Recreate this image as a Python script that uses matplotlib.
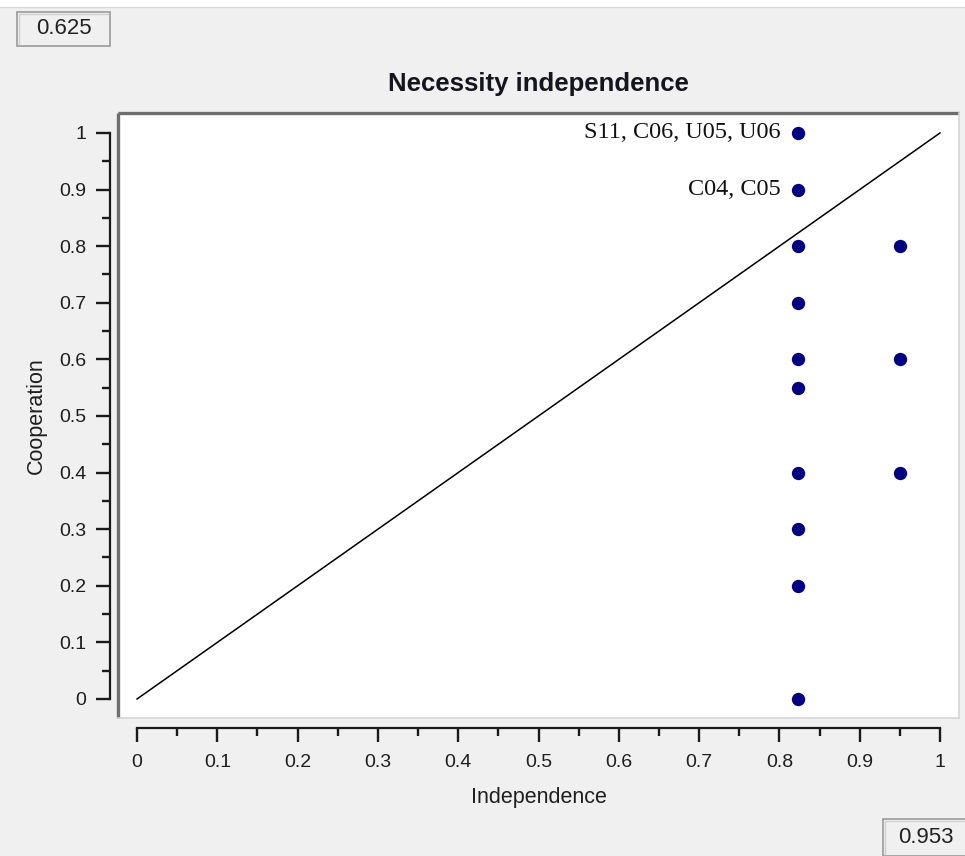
import matplotlib
matplotlib.use("Agg")
import matplotlib.pyplot as plt
from matplotlib.patches import Rectangle
from matplotlib.lines import Line2D
from matplotlib.ticker import FixedLocator, FixedFormatter

# ---- data ----
independence = [0.823, 0.823, 0.823, 0.823, 0.823, 0.823, 0.823, 0.823, 0.823, 0.823,
                0.95, 0.95, 0.95]
cooperation = [1.0, 0.9, 0.8, 0.7, 0.6, 0.55, 0.4, 0.3, 0.2, 0.0,
               0.8, 0.6, 0.4]
point_labels = ["S11, C06, U05, U06", "C04, C05"]
label_x = [0.823, 0.823]
label_y = [1.0, 0.9]
diag = [0, 1]
tick_vals = [0, 0.1, 0.2, 0.3, 0.4, 0.5, 0.6, 0.7, 0.8, 0.9, 1]
tick_text = ["0", "0.1", "0.2", "0.3", "0.4", "0.5", "0.6", "0.7", "0.8", "0.9", "1"]
minor_vals = [0.05, 0.15, 0.25, 0.35, 0.45, 0.55, 0.65, 0.75, 0.85, 0.95]
box_left = "0.625"
box_right = "0.953"

W, H = 965, 856
BG = "#f0f0f0"
SANS = ["Liberation Sans", "DejaVu Sans"]
SERIF = ["Liberation Serif", "DejaVu Serif"]

fig = plt.figure(figsize=(W / 100, H / 100), dpi=100)
fig.patch.set_facecolor(BG)


def fx(px):
    return px / W


def fy(py):
    return 1 - py / H


# white strip at the very top (cut-off caption)
fig.add_artist(Rectangle((0, fy(7)), 1, 7 / H, transform=fig.transFigure,
                         facecolor="white", edgecolor="none"))
fig.add_artist(Line2D([0, 1], [fy(7), fy(7)], transform=fig.transFigure,
                      color="#d8d8d8", lw=1))

# plot area
ax = fig.add_axes([fx(118), fy(718), (959 - 118) / W, (718 - 113) / H])
ax.set_facecolor("white")
ax.set_xlim(-0.0237, 1.0237)
ax.set_ylim(-0.0336, 1.0353)

# sunken frame around the white area
ax.plot([0, 1], [1, 1], transform=ax.transAxes, color="#6e6e6e", lw=2.4,
        clip_on=False, solid_capstyle="butt")
ax.plot([0, 0], [0, 1], transform=ax.transAxes, color="#6e6e6e", lw=2.4,
        clip_on=False, solid_capstyle="butt")
ax.plot([1, 1], [0, 1], transform=ax.transAxes, color="#d6d6d6", lw=1.2,
        clip_on=False)
ax.plot([0, 1], [0, 0], transform=ax.transAxes, color="#d6d6d6", lw=1.2,
        clip_on=False)

# detached axis lines
for s in ["top", "right"]:
    ax.spines[s].set_visible(False)
ax.spines["left"].set_position(("outward", 5.8))
ax.spines["bottom"].set_position(("outward", 7.2))
ax.spines["left"].set_bounds(0, 1)
ax.spines["bottom"].set_bounds(0, 1)
for s in ["left", "bottom"]:
    ax.spines[s].set_linewidth(1.6)
    ax.spines[s].set_color("#1a1a1a")

for axis in [ax.xaxis, ax.yaxis]:
    axis.set_major_locator(FixedLocator(tick_vals))
    axis.set_major_formatter(FixedFormatter(tick_text))
    axis.set_minor_locator(FixedLocator(minor_vals))

ax.tick_params(axis="both", which="major", length=10, width=1.7,
               color="#1a1a1a", labelsize=14, labelcolor="#1e1e1e")
ax.tick_params(axis="both", which="minor", length=6, width=1.7,
               color="#1a1a1a")
ax.tick_params(axis="x", which="major", pad=9)
ax.tick_params(axis="y", which="major", pad=7)
for lab in ax.get_xticklabels() + ax.get_yticklabels():
    lab.set_family(SANS)

# diagonal and points
ax.plot(diag, diag, color="black", lw=1.1, zorder=2)
ax.plot(independence, cooperation, "o", color="#000080", ms=9.6,
        markeredgewidth=0, zorder=3, clip_on=False)
for t, x, y in zip(point_labels, label_x, label_y):
    ax.annotate(t, (x, y), xytext=(-17, 0), textcoords="offset pixels",
                ha="right", va="center", fontsize=17.5, family=SERIF,
                color="#111111")

# titles / labels
fig.text(fx(538), fy(84), "Necessity independence", ha="center", va="center",
         fontsize=18.5, fontweight="bold", family=SANS, color="#151520")
fig.text(fx(539), fy(798), "Independence", ha="center", va="center",
         fontsize=15.5, family=SANS, color="#1e1e1e")
fig.text(fx(36), fy(416), "Cooperation", ha="center", va="center",
         rotation=90, fontsize=15.5, family=SANS, color="#1e1e1e")

# little value boxes
for (x0, y0, x1, y1, txt) in [(17, 12, 110, 46, box_left),
                             (883, 819, 968, 856, box_right)]:
    fig.add_artist(Rectangle((fx(x0), fy(y1)), (x1 - x0) / W, (y1 - y0) / H,
                             transform=fig.transFigure, facecolor=BG,
                             edgecolor="#9a9a9a", lw=1.2))
    fig.add_artist(Line2D([fx(x0 + 2), fx(x0 + 2), fx(x1 - 2)],
                          [fy(y1 - 2), fy(y0 + 2), fy(y0 + 2)],
                          transform=fig.transFigure, color="#cfcfcf", lw=1))
    fig.text(fx((x0 + x1) / 2), fy((y0 + y1) / 2), txt, ha="center",
             va="center", fontsize=16, family=SANS, color="#222222")

fig.savefig("out.png", dpi=100, facecolor=fig.get_facecolor())
